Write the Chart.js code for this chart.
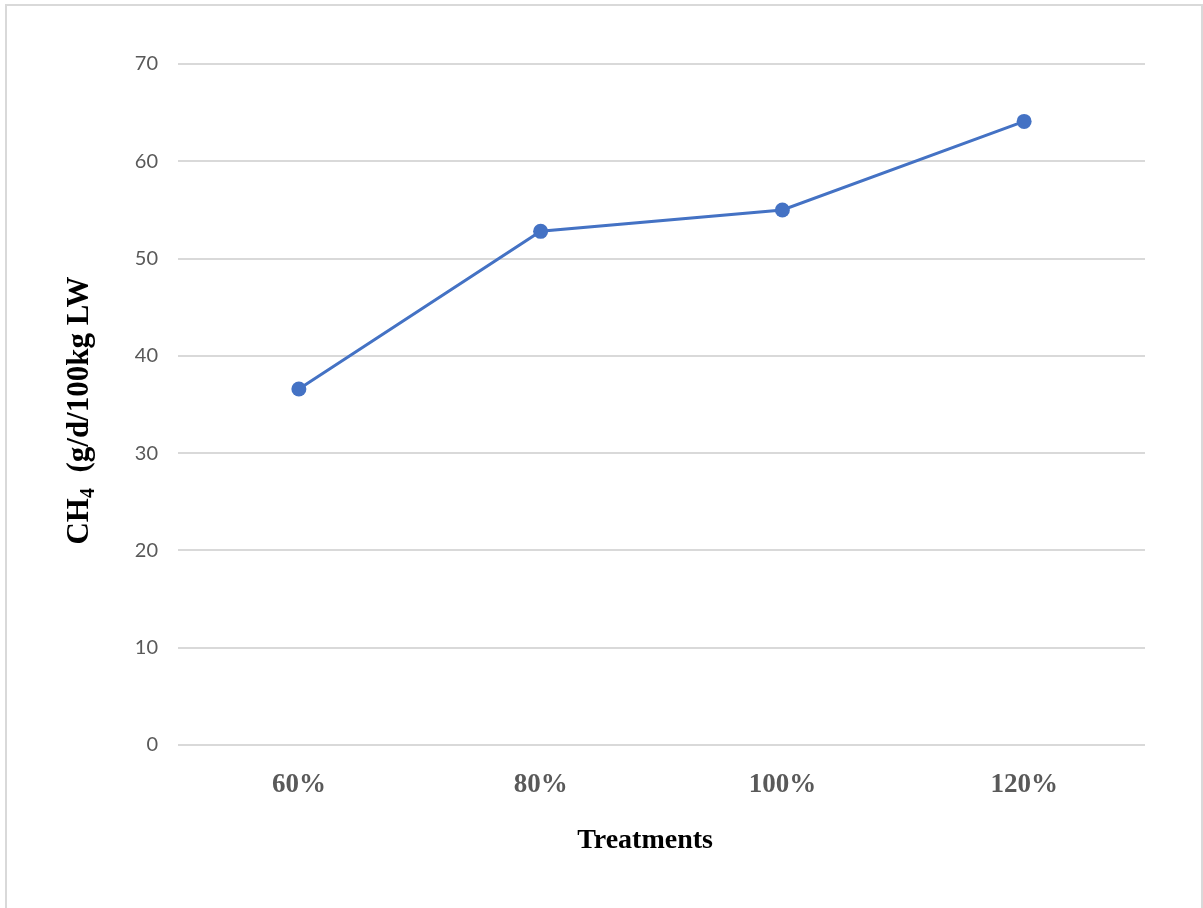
<!DOCTYPE html>
<html>
<head>
<meta charset="utf-8">
<script src="https://cdn.jsdelivr.net/npm/chart.js@4.4.1/dist/chart.umd.min.js"></script>
<style>
  html, body { margin: 0; padding: 0; background: #fff; overflow: hidden; }
  #wrap { position: absolute; left: 0; top: 0; width: 1203px; height: 908px; }
  #frame { position: absolute; left: 5px; top: 4px; width: 1194px; height: 920px;
           border: 2px solid #d9d9d9; border-bottom: none; pointer-events: none; }
</style>
</head>
<body>
<div id="wrap"><canvas id="c" width="1203" height="908"></canvas></div>
<div id="frame"></div>
<script>
const categories = ["60%", "80%", "100%", "120%"];
const ch4Values = [36.6, 52.8, 55.0, 64.1];
const yTickValues = [0, 10, 20, 30, 40, 50, 60, 70];
const xTitle = "Treatments";
const yTitleMain = "CH";
const yTitleSub = "4";
const yTitleRest = "  (g/d/100kg LW";

const titlePlugin = {
  id: 'axisTitles',
  afterDraw(chart) {
    const ctx = chart.ctx;
    const area = chart.chartArea;
    const serif = '"Liberation Serif", "Times New Roman", serif';
    // x-axis title
    ctx.save();
    ctx.font = 'bold 28px ' + serif;
    ctx.fillStyle = '#000';
    ctx.textAlign = 'center';
    ctx.textBaseline = 'middle';
    ctx.fillText(xTitle, area.left + (area.right - area.left) * 0.483, area.bottom + 96);
    ctx.restore();
    // y-axis title with subscript
    const cy = (area.top + area.bottom) / 2 + 6;
    const big = 'bold 31px ' + serif;
    const small = 'bold 20px ' + serif;
    ctx.save();
    ctx.font = big;
    const w1 = ctx.measureText(yTitleMain).width;
    const w3 = ctx.measureText(yTitleRest).width;
    ctx.font = small;
    const w2 = ctx.measureText(yTitleSub).width;
    const total = w1 + w2 + w3;
    ctx.translate(88, cy);
    ctx.rotate(-Math.PI / 2);
    ctx.fillStyle = '#000';
    ctx.textBaseline = 'alphabetic';
    ctx.textAlign = 'left';
    let x = -total / 2;
    ctx.font = big;
    ctx.fillText(yTitleMain, x, 0);
    x += w1;
    ctx.font = small;
    ctx.fillText(yTitleSub, x, 6);
    x += w2;
    ctx.font = big;
    ctx.fillText(yTitleRest, x, 0);
    ctx.restore();
  }
};

new Chart(document.getElementById('c'), {
  type: 'line',
  data: {
    labels: categories,
    datasets: [{
      data: ch4Values,
      borderColor: '#4472C4',
      backgroundColor: '#4472C4',
      borderWidth: 3,
      pointRadius: 7.5,
      pointHoverRadius: 7.5,
      pointBackgroundColor: '#4472C4',
      pointBorderColor: '#4472C4',
      pointBorderWidth: 0,
      tension: 0,
      fill: false
    }]
  },
  options: {
    responsive: false,
    animation: false,
    devicePixelRatio: 1,
    layout: { padding: { left: 0, right: 58, top: 64, bottom: 0 } },
    plugins: { legend: { display: false }, tooltip: { enabled: false } },
    scales: {
      x: {
        offset: true,
        grid: { display: false, drawTicks: false },
        border: { display: false },
        ticks: {
          color: '#595959',
          padding: 24,
          font: { family: '"Liberation Serif", "Times New Roman", serif', size: 27, weight: 'bold' }
        },
        afterFit(scale) { scale.height = 163; }
      },
      y: {
        min: 0,
        max: 70,
        afterBuildTicks(scale) { scale.ticks = yTickValues.map(v => ({ value: v })); },
        grid: { color: '#d9d9d9', lineWidth: 2, drawTicks: false },
        border: { display: false },
        ticks: {
          color: '#595959',
          padding: 20,
          font: { family: 'Lato, "Open Sans", sans-serif', size: 20 }
        },
        afterFit(scale) { scale.width = 178; }
      }
    }
  },
  plugins: [titlePlugin]
});
</script>
</body>
</html>
